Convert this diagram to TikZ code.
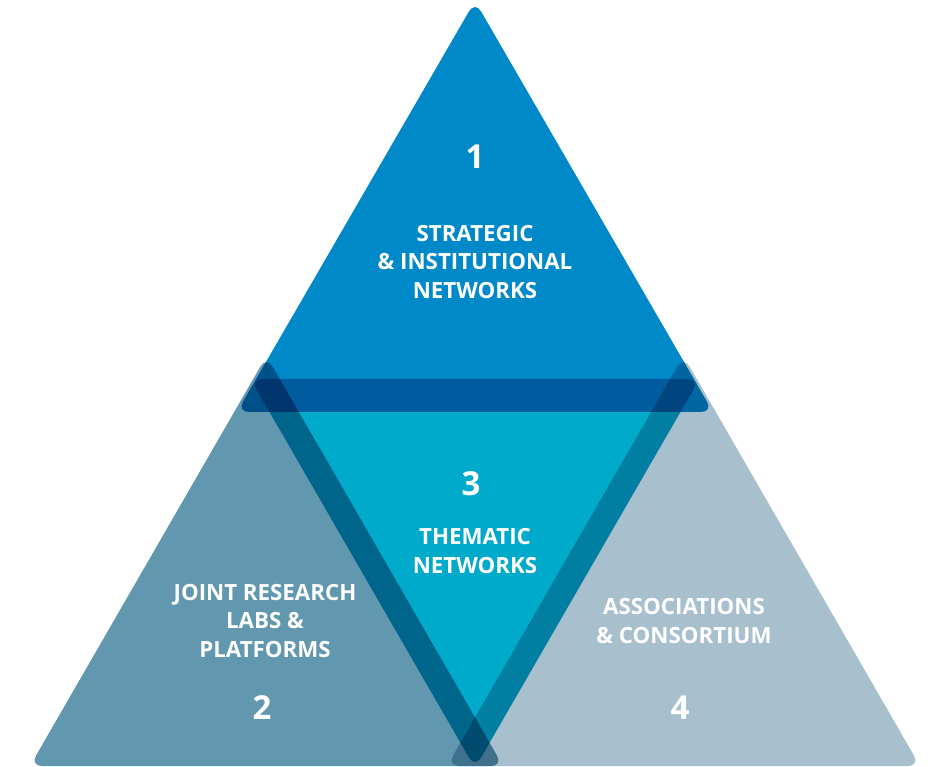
\documentclass[tikz,border=0pt]{standalone}
\usepackage{fontspec}
\setmainfont{Open Sans}
\definecolor{netTop}{RGB}{0,137,200}
\definecolor{netLeft}{RGB}{97,152,175}
\definecolor{netRight}{RGB}{168,191,206}
\definecolor{netMid}{RGB}{0,170,203}
\tikzset{
  net tri/.style={rounded corners=12pt},
  net label/.style={text=white,inner sep=0pt,align=center,
    font=\bfseries\fontsize{22.3}{28.5}\selectfont},
  net num/.style={text=white,inner sep=0pt,
    font=\bfseries\fontsize{33}{36}\selectfont}
}

\begin{document}
\begin{tikzpicture}[x=1pt,y=-1pt]
  \useasboundingbox (0,0) rectangle (935,767);
  \fill[white] (0,0) rectangle (935,767);
  \begin{scope}
    \clip (0,0) rectangle (935,767);
    \begin{scope}[blend mode=multiply]
      % strategic (top)
      \fill[netTop,net tri] (475,1) -- (713,412) -- (237,412) -- cycle;
      % joint labs (left)
      \fill[netLeft,net tri] (266.5,356) -- (503,766) -- (30,766) -- cycle;
      % associations (right)
      \fill[netRight,net tri] (683.5,356) -- (920,766) -- (447,766) -- cycle;
      % thematic (inverted)
      \fill[netMid,net tri] (250.5,379) -- (699.5,379) -- (475,768) -- cycle;
    \end{scope}
  \end{scope}
  % labels
  \node[net num] (numA) at (475,157) {1};
  \node[net label] (txtA) at (475,262) {STRATEGIC\\\& INSTITUTIONAL\\NETWORKS};
  \node[net num] (numC) at (471,484) {3};
  \node[net label] (txtC) at (475,551) {THEMATIC\\NETWORKS};
  \node[net label] (txtB) at (265,621) {JOINT RESEARCH\\LABS \&\\PLATFORMS};
  \node[net num] (numB) at (262,708) {2};
  \node[net label] (txtD) at (684,621) {ASSOCIATIONS\\\& CONSORTIUM};
  \node[net num] (numD) at (680,708) {4};
\end{tikzpicture}
\end{document}
